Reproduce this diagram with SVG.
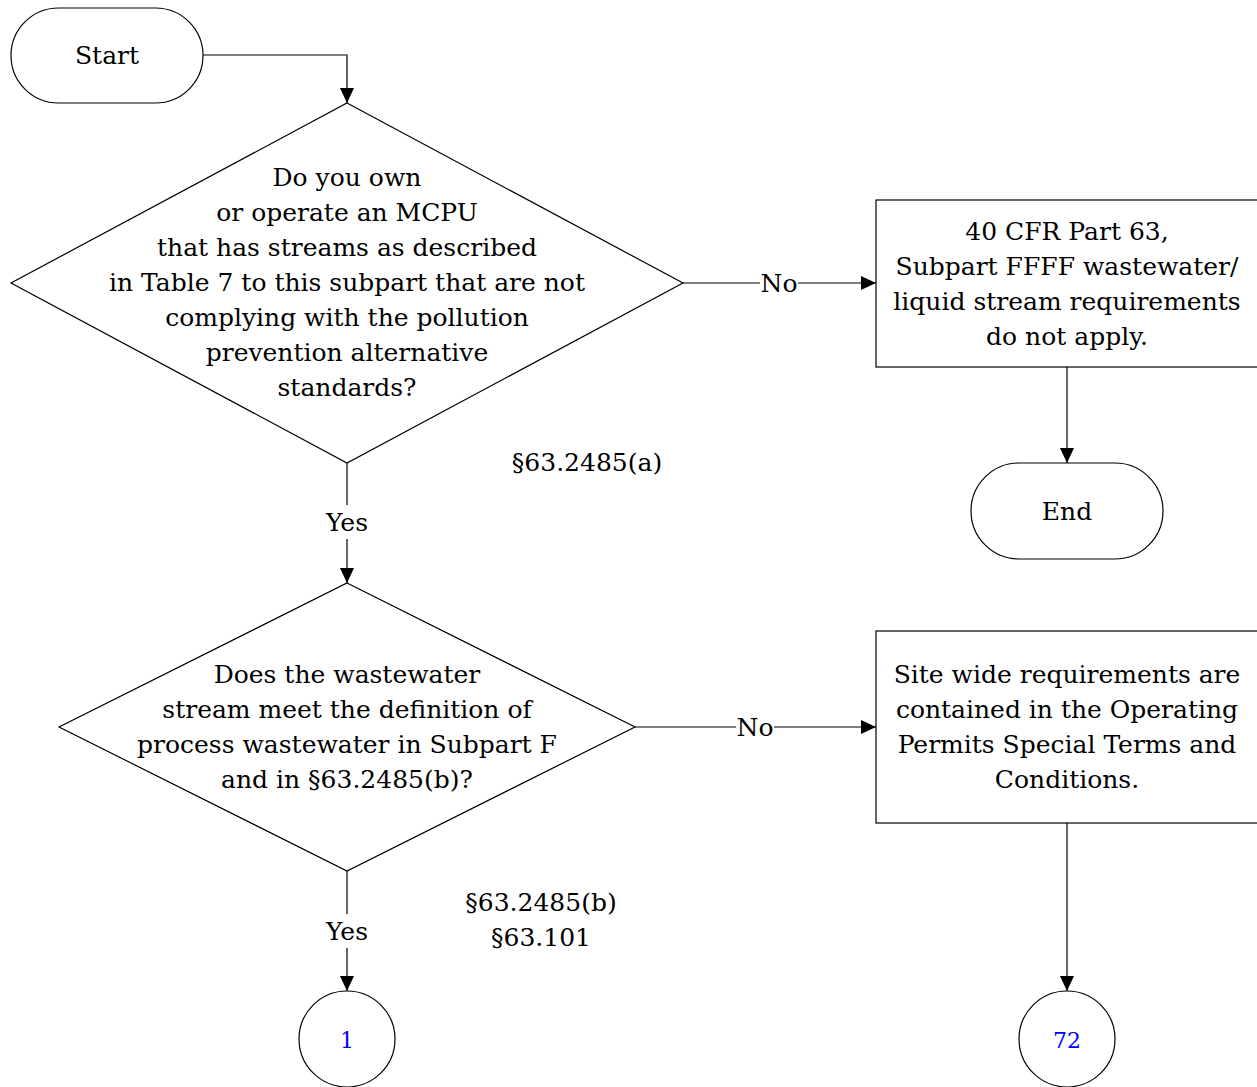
<svg xmlns="http://www.w3.org/2000/svg" width="1257" height="1087" viewBox="0 0 1257 1087">
<defs>
<marker id="arr" markerWidth="15" markerHeight="14" refX="15" refY="7" orient="auto" markerUnits="userSpaceOnUse">
<path d="M0,0 L15,7 L0,14 Z" fill="#000"/>
</marker>
<style>
.s{fill:#fff;stroke:#000;stroke-width:1.2}
.t{font-family:"DejaVu Serif","Liberation Serif",serif;font-size:25px;fill:#000;text-anchor:middle}
.c{fill:none;stroke:#000;stroke-width:1.2}
.n{font-family:"DejaVu Serif","Liberation Serif",serif;font-size:22px;fill:#0000ff;text-anchor:middle}
.l{font-family:"DejaVu Serif","Liberation Serif",serif;font-size:25px;fill:#000;text-anchor:middle}
</style>
</defs>
<rect width="1257" height="1087" fill="#fff"/>
<g id="connectors">
<path class="c" d="M203,55 H347 V103" marker-end="url(#arr)"/>
<path class="c" d="M683,283 H876" marker-end="url(#arr)"/>
<path class="c" d="M1067,367 V463" marker-end="url(#arr)"/>
<path class="c" d="M347,463 V583" marker-end="url(#arr)"/>
<path class="c" d="M635,727 H876" marker-end="url(#arr)"/>
<path class="c" d="M1067,823 V991" marker-end="url(#arr)"/>
<path class="c" d="M347,871 V991" marker-end="url(#arr)"/>
<rect x="760" y="268" width="38" height="30" fill="#fff"/>
<text class="l" x="779" y="292">No</text>
<rect x="736" y="712" width="38" height="30" fill="#fff"/>
<text class="l" x="755" y="736">No</text>
<rect x="322" y="505" width="50" height="34" fill="#fff"/>
<text class="l" x="347" y="531">Yes</text>
<rect x="322" y="914" width="50" height="34" fill="#fff"/>
<text class="l" x="347" y="940">Yes</text>
</g>
<g id="start">
<rect class="s" x="11" y="8" width="192" height="95" rx="47.5"/>
<text class="t" x="107" y="64">Start</text>
</g>
<g id="q1">
<path class="s" d="M347,103 L683,283 L347,463 L11,283 Z"/>
<text class="t" x="347" y="186">Do you own</text>
<text class="t" x="347" y="221">or operate an MCPU</text>
<text class="t" x="347" y="256">that has streams as described</text>
<text class="t" x="347" y="291">in Table 7 to this subpart that are not</text>
<text class="t" x="347" y="326">complying with the pollution</text>
<text class="t" x="347" y="361">prevention alternative</text>
<text class="t" x="347" y="396">standards?</text>
</g>
<g id="ref1">
<text class="t" x="587" y="471">§63.2485(a)</text>
</g>
<g id="na">
<rect class="s" x="876" y="200" width="382" height="167"/>
<text class="t" x="1067" y="240">40 CFR Part 63,</text>
<text class="t" x="1067" y="275">Subpart FFFF wastewater/</text>
<text class="t" x="1067" y="310">liquid stream requirements</text>
<text class="t" x="1067" y="345">do not apply.</text>
</g>
<g id="end">
<rect class="s" x="971" y="463" width="192" height="96" rx="48"/>
<text class="t" x="1067" y="520">End</text>
</g>
<g id="q2">
<path class="s" d="M347,583 L635,727 L347,871 L59,727 Z"/>
<text class="t" x="347" y="683">Does the wastewater</text>
<text class="t" x="347" y="718">stream meet the definition of</text>
<text class="t" x="347" y="753">process wastewater in Subpart F</text>
<text class="t" x="347" y="788">and in §63.2485(b)?</text>
</g>
<g id="ref2">
<text class="t" x="541" y="911">§63.2485(b)</text>
<text class="t" x="541" y="946">§63.101</text>
</g>
<g id="site">
<rect class="s" x="876" y="631" width="382" height="192"/>
<text class="t" x="1067" y="683">Site wide requirements are</text>
<text class="t" x="1067" y="718">contained in the Operating</text>
<text class="t" x="1067" y="753">Permits Special Terms and</text>
<text class="t" x="1067" y="788">Conditions.</text>
</g>
<g id="c1">
<circle class="s" cx="347" cy="1039" r="48"/>
<text class="n" x="347" y="1048">1</text>
</g>
<g id="c72">
<circle class="s" cx="1067" cy="1039" r="48"/>
<text class="n" x="1067" y="1048">72</text>
</g>
</svg>
